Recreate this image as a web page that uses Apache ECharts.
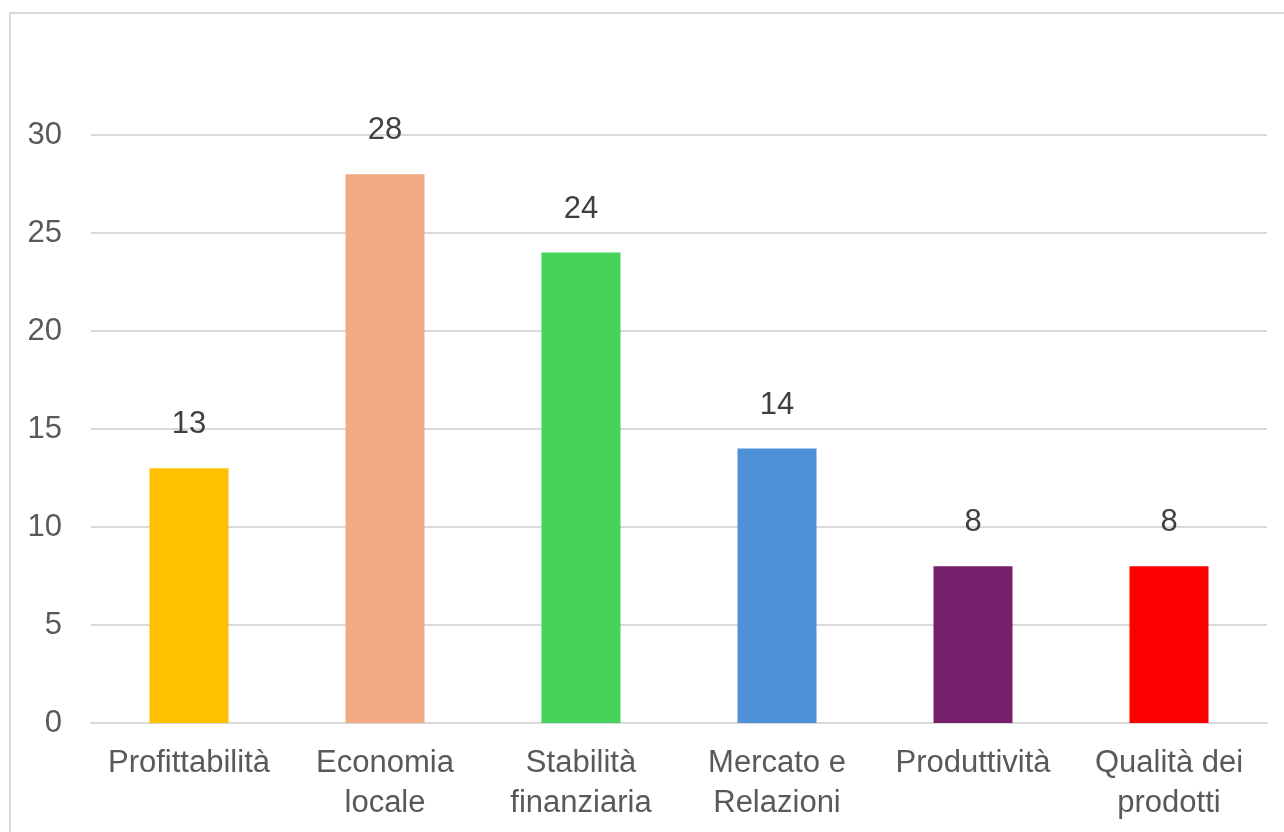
<!DOCTYPE html>
<html>
<head>
<meta charset="utf-8">
<script src="https://cdn.jsdelivr.net/npm/echarts@6/dist/echarts.min.js"></script>
<style>
  html, body { margin: 0; padding: 0; background: #fff; }
  #chart { width: 1284px; height: 832px; }
</style>
</head>
<body>
<div id="chart"></div>
<script>
var categories = ["Profittabilità", "Economia\nlocale", "Stabilità\nfinanziaria", "Mercato e\nRelazioni", "Produttività", "Qualità dei\nprodotti"];
var values = [13, 28, 24, 14, 8, 8];
var barColors = ["#FFC000", "#F1AA84", "#47D35B", "#4F91D9", "#761F6A", "#FF0000"];

var myChart = echarts.init(document.getElementById("chart"));
var option = {
    backgroundColor: "#fff",
    animation: false,
    graphic: [{
        type: "rect",
        shape: {x: 10, y: 13, width: 1300, height: 840},
        style: {fill: "none", stroke: "#d9d9d9", lineWidth: 2}
    }],
    grid: {left: 91, right: 17, top: 135, bottom: 109},
    xAxis: {
        type: "category",
        data: categories,
        axisTick: {show: false},
        axisLine: {lineStyle: {color: "#d9d9d9", width: 2}},
        axisLabel: {
            color: "#595959",
            fontFamily: "Liberation Sans",
            fontSize: 31,
            lineHeight: 40,
            margin: 20,
            interval: 0
        }
    },
    yAxis: {
        type: "value",
        min: 0,
        max: 30,
        interval: 5,
        axisLine: {show: false},
        axisTick: {show: false},
        splitLine: {lineStyle: {color: "#d9d9d9", width: 2}},
        axisLabel: {
            color: "#595959",
            fontFamily: "Liberation Sans",
            fontSize: 31,
            margin: 29
        }
    },
    series: [{
        type: "bar",
        barWidth: 79,
        data: values.map(function (v, i) {
            return {value: v, itemStyle: {color: barColors[i]}};
        }),
        label: {
            show: true,
            position: "top",
            distance: 28,
            color: "#404040",
            fontFamily: "Liberation Sans",
            fontSize: 31
        }
    }]
};
myChart.setOption(option);
</script>
</body>
</html>
